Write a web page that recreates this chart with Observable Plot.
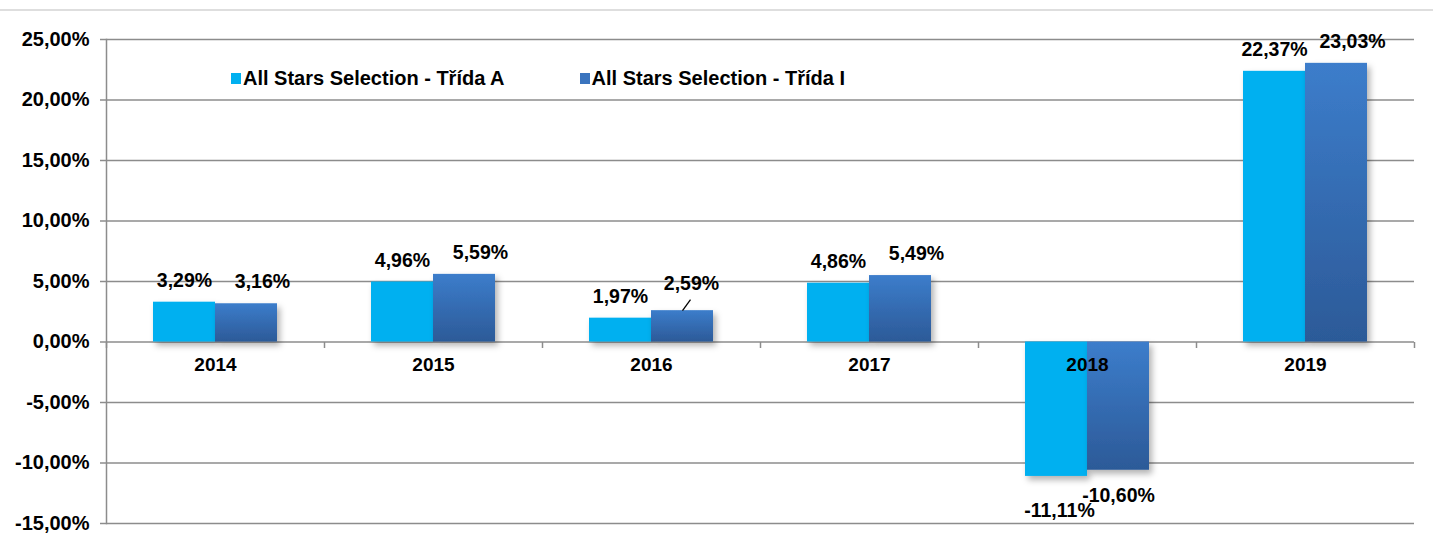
<!DOCTYPE html>
<html>
<head>
<meta charset="utf-8">
<script src="https://cdn.jsdelivr.net/npm/d3@7"></script>
<script src="https://cdn.jsdelivr.net/npm/@observablehq/plot@0.6"></script>
<style>
html, body { margin: 0; padding: 0; background: #fff; }
#wrap { position: relative; width: 1433px; height: 544px; font-family: "Liberation Sans", Arial, sans-serif; }
#topline { position: absolute; left: 0; top: 9px; width: 1433px; height: 2px; background: #dedede; }
#legend { position: absolute; left: 231px; top: 67px; display: flex; gap: 75px; font-weight: bold; font-size: 20px; line-height: 22px; color: #000; }
#legend .item { display: flex; align-items: center; gap: 2px; white-space: nowrap; }
#legend .sw { width: 10px; height: 11px; display: inline-block; }
.chart g[aria-label="bar"] rect { filter: url(#shadow); }
</style>
</head>
<body>
<div id="wrap">
<svg width="0" height="0" style="position:absolute">
  <defs>
    <linearGradient id="gradI" x1="0" y1="0" x2="0" y2="1">
      <stop offset="0" stop-color="#3c7dcb"/>
      <stop offset="1" stop-color="#2c5a98"/>
    </linearGradient>
    <filter id="shadow" filterUnits="userSpaceOnUse" x="-3000" y="-3000" width="8000" height="8000">
      <feDropShadow dx="3" dy="4" stdDeviation="3" flood-color="#000" flood-opacity="0.3"/>
    </filter>
  </defs>
</svg>
</div>
<script>
// ---- data ----
const years = ["2014", "2015", "2016", "2017", "2018", "2019"];
const seriesKeys = ["A", "I"];
const seriesNames = ["All Stars Selection - Třída A", "All Stars Selection - Třída I"];
const classA = [3.29, 4.96, 1.97, 4.86, -11.11, 22.37];
const classI = [3.16, 5.59, 2.59, 5.49, -10.60, 23.03];
const yTicks = [-15, -10, -5, 0, 5, 10, 15, 20, 25];
const seriesFills = ["#00b0f0", "url(#gradI)"];
const swatchColors = ["#00b0f0", "#3a74be"];

// ---- build ----
const rows = years.flatMap((year, i) => [
  {year, series: "A", value: classA[i]},
  {year, series: "I", value: classI[i]}
]);
const fmt = v => v.toFixed(2).replace(".", ",") + "%";
const gridColor = "#8c8c8c";
const font = {fontFamily: "'Liberation Sans', Arial, sans-serif", fontWeight: "bold"};
const tickMark = {draw(ctx) { ctx.moveTo(0, 0); ctx.lineTo(0, 6); }};
const leaderMark = {draw(ctx) { ctx.moveTo(0, 0); ctx.lineTo(8, -11); }};
const isLeader = d => d.year === "2016" && d.series === "I";

const rowsA = rows.filter(d => d.series === "A");
const rowsI = rows.filter(d => d.series === "I");
const pos = {fx: "year", x: "series", y: "value", text: d => fmt(d.value), fontSize: 19.5, fill: "black", ...font};

const chart = Plot.plot({
  width: 1433,
  height: 544,
  marginTop: 39,
  marginBottom: 21,
  marginLeft: 104,
  marginRight: 18,
  className: "chart",
  style: {background: "transparent", overflow: "visible"},
  fx: {domain: years, padding: 0, axis: null, label: null},
  x: {domain: seriesKeys, paddingInner: 0, paddingOuter: 0.734, axis: null},
  y: {domain: [-15, 25]},
  marks: [
    Plot.gridY(yTicks, {stroke: gridColor, strokeOpacity: 1, strokeWidth: 1.5}),
    Plot.frame({anchor: "left", facet: "super", stroke: gridColor, strokeWidth: 1.5}),
    Plot.axisY(yTicks, {
      tickSize: 6, tickPadding: 11, tickFormat: fmt,
      stroke: gridColor, strokeWidth: 1.5, fill: "black",
      fontSize: 20, ...font, label: null
    }),
    Plot.dot(years, {fx: d => d, y: () => 0, frameAnchor: "left", symbol: tickMark, stroke: gridColor, strokeWidth: 1.5, fill: "none"}),
    Plot.dot(years.slice(-1), {fx: d => d, y: () => 0, frameAnchor: "right", symbol: tickMark, stroke: gridColor, strokeWidth: 1.5, fill: "none"}),
    Plot.barY(rowsA, {fx: "year", x: "series", y: "value", fill: seriesFills[0]}),
    Plot.barY(rowsI, {fx: "year", x: "series", y: "value", fill: seriesFills[1]}),
    Plot.text(years, {fx: d => d, y: () => 0, text: d => d, dy: 23, fontSize: 19, fill: "black", ...font}),
    Plot.text(rowsA.filter(d => d.value >= 0), {...pos, dy: -21.5}),
    Plot.text(rowsI.filter(d => d.value >= 0 && !isLeader(d)), {...pos, dx: 16, dy: -22}),
    Plot.text(rowsI.filter(isLeader), {...pos, dx: 9, dy: -27}),
    Plot.dot(rowsI.filter(isLeader), {fx: "year", x: "series", y: "value", symbol: leaderMark, stroke: "black", strokeWidth: 1.3, fill: "none"}),
    Plot.text(rowsA.filter(d => d.value < 0), {...pos, dx: 3, dy: 34}),
    Plot.text(rowsI.filter(d => d.value < 0), {...pos, dy: 25})
  ]
});

const wrap = document.getElementById("wrap");
wrap.appendChild(chart);

const topLine = document.createElement("div");
topLine.id = "topline";
wrap.appendChild(topLine);

const legend = document.createElement("div");
legend.id = "legend";
seriesNames.forEach((name, i) => {
  const item = document.createElement("div");
  item.className = "item";
  const sw = document.createElement("span");
  sw.className = "sw";
  sw.style.background = swatchColors[i];
  const label = document.createElement("span");
  label.textContent = name;
  item.appendChild(sw);
  item.appendChild(label);
  legend.appendChild(item);
});
wrap.appendChild(legend);
</script>
</body>
</html>
